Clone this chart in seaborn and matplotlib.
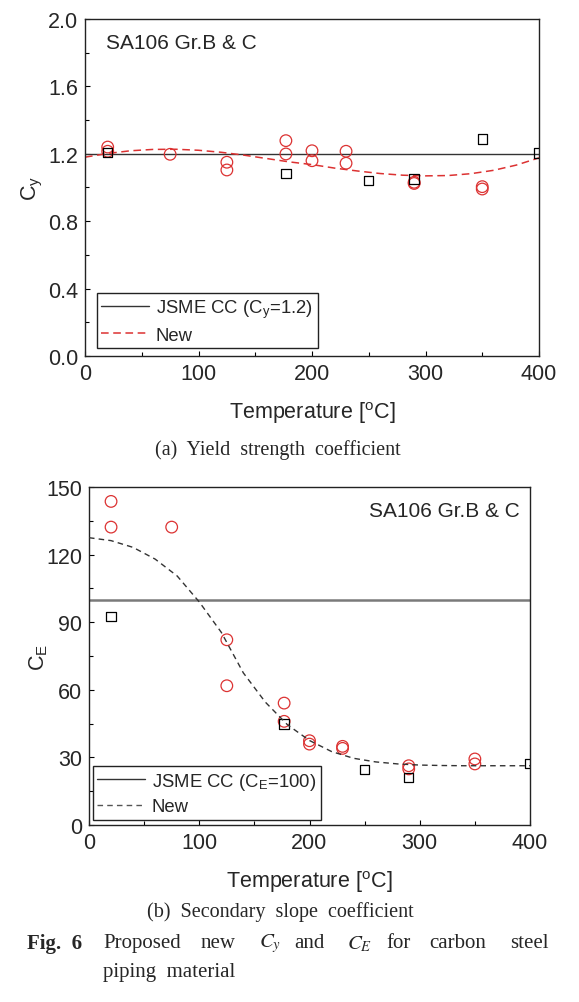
import pandas as pd
import seaborn as sns
import matplotlib.pyplot as plt
from matplotlib.ticker import MultipleLocator

# (a) yield strength coefficient - test data
cy_temp = [20, 20, 75, 125, 125, 177, 177, 200, 200, 230, 230, 290, 290, 350, 350]
cy_val = [1.24, 1.215, 1.197, 1.15, 1.104, 1.278, 1.199, 1.218, 1.159, 1.215, 1.144, 1.031, 1.024, 1.005, 0.991]
cy_sq_temp = [20, 177, 250, 290, 350, 400]
cy_sq_val = [1.207, 1.084, 1.040, 1.051, 1.288, 1.205]
cy_jsme = 1.2

# proposed curve for Cy
fit_temp = [0, 20, 40, 60, 80, 100, 120, 140, 160, 180, 200, 220, 240, 260, 280, 300, 320, 340, 360, 380, 400]
cy_fit = [1.180, 1.202, 1.218, 1.226, 1.227, 1.221, 1.209, 1.192, 1.172, 1.152, 1.136, 1.115, 1.098,
          1.083, 1.073, 1.069, 1.071, 1.082, 1.102, 1.133, 1.176]

# (b) secondary slope coefficient
ce_temp = [20, 20, 75, 125, 125, 177, 177, 200, 200, 230, 230, 290, 290, 350, 350]
ce_val = [143.6, 132.2, 132.2, 82.2, 61.8, 54.1, 46.0, 37.4, 35.9, 34.9, 34.0, 26.3, 24.9, 29.3, 27.1]
ce_sq_temp = [20, 177, 250, 290, 400]
ce_sq_val = [92.5, 44.8, 24.6, 21.2, 27.4]
ce_jsme = 100
ce_fit = [127.5, 126.2, 123.2, 118.0, 110.5, 99.0, 85.5, 67.5, 54.5, 44.5, 37.5, 32.6, 29.6,
          28.0, 27.1, 26.6, 26.4, 26.3, 26.3, 26.3, 26.3]

cy_df = pd.DataFrame({'T': cy_temp, 'C': cy_val})
cy_sq = pd.DataFrame({'T': cy_sq_temp, 'C': cy_sq_val})
ce_df = pd.DataFrame({'T': ce_temp, 'C': ce_val})
ce_sq = pd.DataFrame({'T': ce_sq_temp, 'C': ce_sq_val})
fit_df = pd.DataFrame({'T': fit_temp, 'Cy': cy_fit, 'CE': ce_fit})

sns.set_style('ticks', {'xtick.direction': 'in', 'ytick.direction': 'in'})
plt.rcParams['font.family'] = ['Liberation Sans', 'DejaVu Sans']
plt.rcParams['mathtext.fontset'] = 'stix'

RED = '#dc3232'
TICK_FS = 15.5
LAB_FS = 15.5
LEG_FS = 13.3

fig = plt.figure(figsize=(5.79, 10.03), dpi=100)
ax1 = fig.add_axes([85 / 579, 1 - 357 / 1003, 454 / 579, 337 / 1003])
ax2 = fig.add_axes([89 / 579, 1 - 826 / 1003, 441 / 579, 338 / 1003])


def style_axis(ax, ylim, ymaj, ymin, ylabel):
    ax.set_xlim(0, 400)
    ax.set_ylim(*ylim)
    ax.xaxis.set_major_locator(MultipleLocator(100))
    ax.xaxis.set_minor_locator(MultipleLocator(50))
    ax.yaxis.set_major_locator(MultipleLocator(ymaj))
    ax.yaxis.set_minor_locator(MultipleLocator(ymin))
    ax.tick_params(which='major', length=3.5, width=0.8, labelsize=TICK_FS, pad=5, color='black')
    ax.tick_params(which='minor', length=3, width=0.8, color='black')
    for s in ax.spines.values():
        s.set_linewidth(1.0)
        s.set_color('#222222')
    ax.set_xlabel('Temperature [$^\\mathregular{o}$C]', fontsize=LAB_FS)
    ax.set_ylabel(ylabel, fontsize=LAB_FS)
    ax.xaxis.set_label_coords(0.5, -0.13)
    ax.yaxis.set_label_coords(-0.09, 0.5)


def make_legend(ax, handles, labels, anchor):
    leg = ax.legend(handles, labels, loc='lower left', bbox_to_anchor=anchor, borderaxespad=0,
                    fontsize=LEG_FS, fancybox=False, framealpha=1, edgecolor='#222222',
                    handlelength=2.6, handletextpad=0.35, borderpad=0.25, labelspacing=0.35)
    leg.get_frame().set_linewidth(1.0)
    return leg


# ---- (a) Cy ----
ax1.axhline(cy_jsme, color='#333333', lw=1.0)
sns.lineplot(data=fit_df, x='T', y='Cy', ax=ax1, color=RED, lw=1.1, dashes=(5, 3),
             legend=False)
sns.scatterplot(data=cy_df, x='T', y='C', ax=ax1, marker='o', s=70, facecolor='none',
                edgecolor=RED, linewidth=0.9, legend=False, zorder=3)
sns.scatterplot(data=cy_sq, x='T', y='C', ax=ax1, marker='s', s=45, facecolor='none',
                edgecolor='black', linewidth=0.9, legend=False, zorder=3)
style_axis(ax1, (0, 2.0), 0.4, 0.2, 'C$_\\mathregular{y}$')
ax1.yaxis.set_major_formatter(plt.FormatStrFormatter('%.1f'))
ax1.text(0.046, 0.929, 'SA106 Gr.B & C', transform=ax1.transAxes, fontsize=15,
         ha='left', va='center')
make_legend(ax1,
            [plt.Line2D([], [], color='#333333', lw=1.0),
             plt.Line2D([], [], color=RED, lw=1.1, dashes=(5, 3))],
            ['JSME CC (C$_\\mathregular{y}$=1.2)', 'New'], (0.026, 0.023))

# ---- (b) CE ----
ax2.axhline(ce_jsme, color='#7a7a7a', lw=1.8)
sns.scatterplot(data=ce_df, x='T', y='C', ax=ax2, marker='o', s=70, facecolor='none',
                edgecolor=RED, linewidth=0.9, legend=False, zorder=3)
sns.scatterplot(data=ce_sq, x='T', y='C', ax=ax2, marker='s', s=45, facecolor='none',
                edgecolor='black', linewidth=0.9, legend=False, zorder=3)
sns.lineplot(data=fit_df, x='T', y='CE', ax=ax2, color='#333333', lw=1.0, dashes=(4, 3),
             legend=False, zorder=4)
style_axis(ax2, (0, 150), 30, 15, 'C$_\\mathregular{E}$')
ax2.text(0.977, 0.931, 'SA106 Gr.B & C', transform=ax2.transAxes, fontsize=15,
         ha='right', va='center')
make_legend(ax2,
            [plt.Line2D([], [], color='#333333', lw=1.0),
             plt.Line2D([], [], color='#555555', lw=1.0, dashes=(4, 3))],
            ['JSME CC (C$_\\mathregular{E}$=100)', 'New'], (0.008, 0.016))

# ---- captions ----
serif = ['Liberation Serif', 'DejaVu Serif']
fig.text(278 / 579, 1 - 450 / 1003, '(a)  Yield  strength  coefficient', family=serif,
         fontsize=14.5, ha='center', va='center')
fig.text(280 / 579, 1 - 912 / 1003, '(b)  Secondary  slope  coefficient', family=serif,
         fontsize=14.5, ha='center', va='center')
cap_y = 1 - 944 / 1003
fig.text(27 / 579, cap_y, 'Fig.  6', family=serif, fontsize=15, weight='bold', va='center')
words = [(103, 'Proposed'), (201, 'new'), (259, '$C_y$'), (294, 'and'), (347, '$C_E$'),
         (386, 'for'), (429, 'carbon'), (510, 'steel')]
for xp, w in words:
    fig.text(xp / 579, cap_y, w, family=serif, fontsize=15, va='center')
fig.text(103 / 579, 1 - 973 / 1003, 'piping  material', family=serif, fontsize=15, va='center')

fig.savefig('out.png', dpi=100)
